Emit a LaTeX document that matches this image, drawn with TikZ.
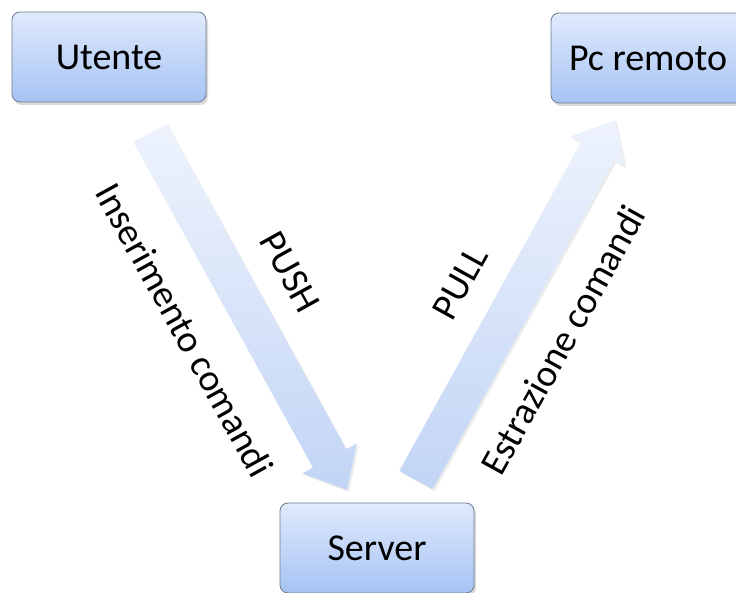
\documentclass[tikz,border=0pt]{standalone}
\usepackage{fontspec}
\setmainfont{Carlito}
\usetikzlibrary{calc,shadows}

\definecolor{boxtop}{HTML}{E0EAFC}
\definecolor{boxbot}{HTML}{A6C3F4}
\definecolor{boxline}{HTML}{6E7B8E}
\definecolor{arrtop}{HTML}{EEF3FD}
\definecolor{arrbot}{HTML}{C2D5F5}

\tikzset{
  node box/.style={draw=boxline, line width=0.8pt, rounded corners=8pt,
    top color=boxtop, bottom color=boxbot,
    minimum width=194pt, minimum height=90pt,
    font=\fontsize{38}{44}\selectfont,
    drop shadow={shadow xshift=2pt, shadow yshift=-3pt, opacity=0.3}},
  block arrow/.style={top color=arrtop, bottom color=arrbot, draw=none,
    drop shadow={shadow xshift=2pt, shadow yshift=-2pt, opacity=0.15}},
  flow label/.style={font=\fontsize{38}{44}\selectfont, inner sep=0pt}
}

% wide block arrow from #1 (tail centre) to #2 (tip)
\newcommand\blockarrow[2]{%
  \coordinate (#1-hb) at ($(#2)!36pt!(#1)$);
  \path[block arrow]
    ($(#1)!19pt!90:(#2)$) -- ($(#1-hb)!19pt!90:(#2)$) --
    ($(#1-hb)!31pt!90:(#2)$) -- (#2) --
    ($(#1-hb)!31pt!-90:(#2)$) -- ($(#1-hb)!19pt!-90:(#2)$) --
    ($(#1)!19pt!-90:(#2)$) -- cycle;}

\begin{document}
\begin{tikzpicture}[x=1pt,y=1pt]
\useasboundingbox (0,0) rectangle (736,593);

% boxes
\node[node box] (utente) at (109,536) {Utente};
\node[node box] (pc) at (648,535) {Pc remoto};
\node[node box] (server) at (377,45) {Server};

% flows
\coordinate (pushTail) at (150,460);
\coordinate (pushTip) at (347,103);
\coordinate (pullTail) at (416,113);
\coordinate (pullTip) at (615,473);
\blockarrow{pushTail}{pushTip}
\blockarrow{pullTail}{pullTip}

% labels along the flows
\node[flow label, rotate=-61.1] (inscmd) at (185,263) {Inserimento comandi};
\node[flow label, rotate=-61.1] (push) at (290,321) {PUSH};
\node[flow label, rotate=61.1] (pull) at (460,310) {PULL};
\node[flow label, rotate=61.1] (estr) at (563,253) {Estrazione comandi};
\end{tikzpicture}
\end{document}
